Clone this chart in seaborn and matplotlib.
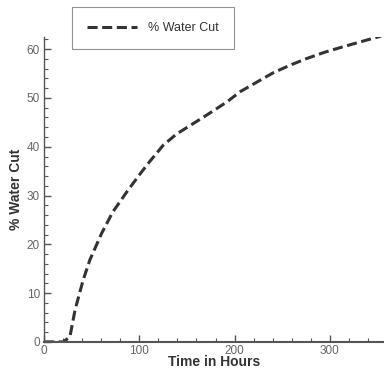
import matplotlib
matplotlib.use("Agg")
import matplotlib.pyplot as plt
import seaborn as sns
import pandas as pd
from matplotlib.ticker import MultipleLocator

# values
hours = [0, 10, 20, 27, 32.5, 41, 48, 60.5, 72, 87, 101, 111, 125, 139, 157, 174, 192, 206, 223, 240, 258, 276, 295, 314, 334, 354]
water_cut = [0, 0, 0, 1.0, 6.6, 12.7, 16.8, 22.3, 26.6, 30.8, 34.5, 37.0, 40.3, 42.6, 44.8, 46.9, 49.2, 51.3, 53.2, 55.1, 56.7, 58.1, 59.4, 60.5, 61.6, 62.7]

df = pd.DataFrame({"hours": hours, "water_cut": water_cut})

sns.set_style("white")
plt.rcParams['font.family'] = ['Liberation Sans', 'DejaVu Sans']

fig = plt.figure(figsize=(3.84, 3.70), dpi=100)
ax = fig.add_axes([0.115, 0.076, 0.885, 0.824])

sns.lineplot(data=df, x="hours", y="water_cut", ax=ax, color="#333333",
             linewidth=2.2, label="% Water Cut")
ax.lines[0].set_dashes([3.3, 1.5])

ax.set_xlim(0, 357)
ax.set_ylim(0, 62.5)
ax.xaxis.set_major_locator(MultipleLocator(100))
ax.xaxis.set_minor_locator(MultipleLocator(20))
ax.yaxis.set_major_locator(MultipleLocator(10))
ax.yaxis.set_minor_locator(MultipleLocator(2))
ax.tick_params(axis="x", which="both", bottom=True, pad=2)
ax.tick_params(axis="y", which="both", left=True, pad=3)
ax.tick_params(which="both", direction="in", color="#555555", labelcolor="#666666", labelsize=8.5)
ax.tick_params(which="major", length=5, width=1)
ax.tick_params(which="minor", length=3, width=0.8)

for s in ["top", "right"]:
    ax.spines[s].set_visible(False)
for s in ["left", "bottom"]:
    ax.spines[s].set_color("#555555")
ax.spines["bottom"].set_linewidth(1.5)
ax.spines["left"].set_linewidth(1.0)

ax.set_xlabel("Time in Hours", fontsize=10, fontweight="bold", color="#333333", labelpad=-1)
ax.set_ylabel("% Water Cut", fontsize=10, fontweight="bold", color="#333333", labelpad=3)

ax.get_legend().remove()
leg = fig.legend(loc="upper left", bbox_to_anchor=(0.1875, 0.981), fontsize=9,
                 frameon=True, fancybox=False, handlelength=4.0, handletextpad=0.9,
                 borderpad=1.2, borderaxespad=0)
leg.get_frame().set_edgecolor("#777777")
leg.get_frame().set_linewidth(0.8)
for t in leg.get_texts():
    t.set_color("#333333")

fig.savefig("out.png", dpi=100)
